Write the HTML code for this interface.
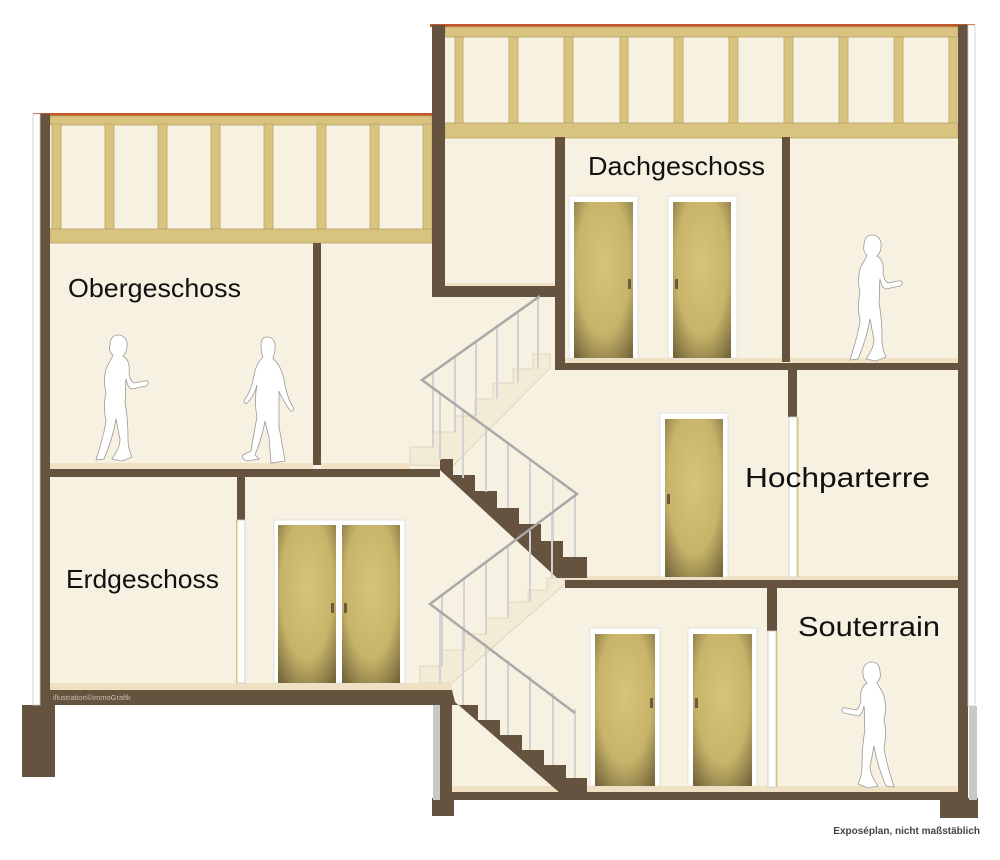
<!DOCTYPE html>
<html><head><meta charset="utf-8"><style>
html,body{margin:0;padding:0;background:#fff;}
svg{display:block;}
.lbl{font-family:"Liberation Sans",sans-serif;fill:#111;}
</style></head><body>
<svg width="1000" height="860" viewBox="0 0 1000 860" xmlns="http://www.w3.org/2000/svg">
<defs>
<radialGradient id="dg" cx="50%" cy="40%" r="75%">
<stop offset="0" stop-color="#d6c47a"/><stop offset="0.6" stop-color="#c7b46a"/><stop offset="1" stop-color="#75663a"/>
</radialGradient>
<path id="woman" d="M10,0 C16,0 20,5 19,12 C19,16 17,19 15,21 C20,24 22,30 21,38 C22,44 24,47 26,48 L36,46 C40,45 42,48 38,51 L24,54 C20,53 19,48 18,44 C17,52 18,60 17,68 C19,78 20,92 20,104 C20,112 22,118 24,122 L14,126 L4,124 C8,118 12,112 12,104 C10,96 9,88 8,84 C6,96 2,110 -4,124 L-12,125 C-8,112 -4,100 -2,86 C-4,76 -4,66 -2,58 C-4,50 -4,42 -2,34 C0,28 4,24 5,20 C2,18 1,14 2,10 C2,4 5,0 10,0 Z"/>
<path id="man" d="M12,0 C18,0 21,5 20,12 C20,16 18,19 18,22 C24,26 28,36 30,48 C32,58 34,64 38,70 C40,74 36,76 34,72 C30,66 26,60 24,54 C24,66 24,78 24,90 C26,100 28,112 30,124 L16,126 L14,100 C12,94 11,88 10,84 C8,96 4,108 0,118 L4,122 L-8,124 C-12,122 -14,120 -12,118 L-4,114 C-2,102 0,90 2,80 C0,70 0,58 2,48 C0,56 -4,62 -8,66 C-10,68 -12,64 -10,62 C-4,54 -2,44 0,34 C2,26 6,22 8,20 C6,16 6,12 6,8 C6,3 8,0 12,0 Z"/>
</defs>

<rect x="50" y="25" width="908" height="770" fill="#f7f1e1"/>
<rect x="0" y="0" width="432" height="114" fill="#fff"/>
<rect x="0" y="705" width="440" height="155" fill="#fff"/>

<rect x="33" y="113" width="399" height="3" fill="#c0582a"/>
<rect x="430" y="24" width="545" height="3" fill="#c0582a"/>

<g fill="#d9c47f" stroke="#b7a468" stroke-width="0.8">
<rect x="50" y="116" width="382" height="9"/>
<rect x="52" y="124" width="9" height="105"/><rect x="105" y="124" width="9" height="105"/>
<rect x="158" y="124" width="9" height="105"/><rect x="211" y="124" width="9" height="105"/>
<rect x="264" y="124" width="9" height="105"/><rect x="317" y="124" width="9" height="105"/>
<rect x="370" y="124" width="9" height="105"/><rect x="423" y="124" width="9" height="105"/>
<rect x="50" y="229" width="382" height="14"/>
</g>
<g fill="#d9c47f" stroke="#b7a468" stroke-width="0.8">
<rect x="445" y="27" width="513" height="10"/>
<rect x="455" y="37" width="8" height="86"/><rect x="509" y="37" width="9" height="86"/>
<rect x="564" y="37" width="9" height="86"/><rect x="620" y="37" width="8" height="86"/>
<rect x="674" y="37" width="9" height="86"/><rect x="729" y="37" width="9" height="86"/>
<rect x="784" y="37" width="9" height="86"/><rect x="839" y="37" width="9" height="86"/>
<rect x="894" y="37" width="9" height="86"/><rect x="949" y="37" width="8" height="86"/>
<rect x="445" y="123" width="513" height="15"/>
</g>

<g fill="#f3ebd6" stroke="#e0d6bf" stroke-width="1">
<polygon points="410,465 410,447 433,447 433,432 455,432 455,416 475,416 475,399 493,399 493,383 513,383 513,369 533,369 533,354 550,354 550,368 453,466"/>
<polygon points="420,683 420,666 442,666 442,650 464,650 464,634 486,634 486,618 508,618 508,602 528,602 528,590 547,590 547,578 565,578 565,584 452,683"/>
</g>

<g fill="#f0e1c4">
<rect x="50" y="463" width="263" height="6"/><rect x="321" y="463" width="89" height="6"/>
<rect x="50" y="683" width="402" height="7"/>
<rect x="445" y="283" width="110" height="4"/>
<rect x="565" y="358" width="217" height="6"/><rect x="790" y="358" width="168" height="6"/>
<rect x="565" y="576" width="393" height="5"/>
<rect x="452" y="786" width="506" height="6"/>
</g>

<g fill="#65533f">
<rect x="40" y="114" width="10" height="591"/>
<rect x="22" y="705" width="33" height="72"/>
<rect x="432" y="25" width="13" height="272"/>
<rect x="432" y="286" width="123" height="11"/>
<rect x="313" y="243" width="8" height="222"/>
<rect x="40" y="469" width="400" height="8"/>
<rect x="237" y="476" width="8" height="44"/>
<rect x="40" y="690" width="412" height="15"/>
<rect x="440" y="705" width="12" height="110"/>
<rect x="432" y="798" width="22" height="18"/>
<rect x="555" y="137" width="10" height="232"/>
<rect x="782" y="137" width="8" height="225"/>
<rect x="555" y="363" width="413" height="7"/>
<rect x="788" y="369" width="9" height="48"/>
<rect x="565" y="580" width="403" height="8"/>
<rect x="767" y="587" width="10" height="44"/>
<rect x="440" y="792" width="528" height="8"/>
<rect x="958" y="25" width="10" height="775"/>
<rect x="940" y="798" width="38" height="20"/>
<polygon points="440,459 453,459 453,475 475,475 475,491 497,491 497,508 519,508 519,524 541,524 541,541 563,541 563,557 587,557 587,578 557,578 440,470"/>
<polygon points="452,690 452,705 478,705 478,720 500,720 500,735 522,735 522,750 544,750 544,765 566,765 566,778 587,778 587,793 560,793 455,702"/>
</g>

<rect x="33" y="114" width="7" height="591" fill="#fff" stroke="#ccc" stroke-width="0.8"/>
<rect x="968" y="25" width="7" height="681" fill="#fff" stroke="#ccc" stroke-width="0.8"/>
<rect x="969" y="706" width="8" height="94" fill="#c8c8c8"/>
<rect x="433" y="705" width="7" height="95" fill="#c8c8c8"/>

<g>
<rect x="237" y="520" width="8" height="163" fill="#fff" stroke="#ccc" stroke-width="0.8"/><rect x="236" y="520" width="1.5" height="163" fill="#d9c47f"/>
<rect x="789" y="417" width="8" height="160" fill="#fff" stroke="#ccc" stroke-width="0.8"/><rect x="797" y="417" width="1.5" height="160" fill="#d9c47f"/>
<rect x="768" y="631" width="8" height="156" fill="#fff" stroke="#ccc" stroke-width="0.8"/><rect x="776" y="631" width="1.5" height="156" fill="#d9c47f"/>
</g>

<g stroke="#ddd" stroke-width="0.8">
<rect x="569" y="196" width="69" height="162" fill="#fff"/>
<rect x="668" y="196" width="69" height="162" fill="#fff"/>
<rect x="660" y="413" width="68" height="164" fill="#fff"/>
<rect x="274" y="520" width="131" height="163" fill="#fff"/>
<rect x="590" y="628" width="70" height="158" fill="#fff"/>
<rect x="688" y="628" width="69" height="158" fill="#fff"/>
</g>
<g fill="url(#dg)">
<rect x="574" y="202" width="59" height="156"/>
<rect x="673" y="202" width="58" height="156"/>
<rect x="665" y="419" width="58" height="158"/>
<rect x="278" y="525" width="58" height="158"/>
<rect x="342" y="525" width="58" height="158"/>
<rect x="595" y="634" width="60" height="152"/>
<rect x="693" y="634" width="59" height="152"/>
</g>
<g fill="#6b5a40">
<rect x="628" y="279" width="3" height="10"/><rect x="675" y="279" width="3" height="10"/>
<rect x="667" y="494" width="3" height="10"/>
<rect x="331" y="603" width="3" height="10"/><rect x="344" y="603" width="3" height="10"/>
<rect x="650" y="698" width="3" height="10"/><rect x="695" y="698" width="3" height="10"/>
</g>

<g stroke="#d2d2d2" stroke-width="2">
<line x1="433" y1="372" x2="433" y2="447"/><line x1="455" y1="357" x2="455" y2="432"/>
<line x1="476" y1="342" x2="476" y2="416"/><line x1="497" y1="327" x2="497" y2="399"/>
<line x1="518" y1="312" x2="518" y2="383"/><line x1="538" y1="298" x2="538" y2="369"/>
<line x1="440" y1="393" x2="440" y2="460"/><line x1="463" y1="410" x2="463" y2="478"/>
<line x1="486" y1="427" x2="486" y2="492"/><line x1="508" y1="443" x2="508" y2="508"/>
<line x1="530" y1="459" x2="530" y2="524"/><line x1="553" y1="476" x2="553" y2="541"/>
<line x1="575" y1="493" x2="575" y2="557"/>
<line x1="442" y1="595" x2="442" y2="666"/><line x1="464" y1="579" x2="464" y2="650"/>
<line x1="486" y1="563" x2="486" y2="634"/><line x1="508" y1="547" x2="508" y2="618"/>
<line x1="530" y1="531" x2="530" y2="602"/><line x1="552" y1="515" x2="552" y2="578"/>
<line x1="440" y1="611" x2="440" y2="683"/><line x1="463" y1="628" x2="463" y2="705"/>
<line x1="486" y1="644" x2="486" y2="720"/><line x1="508" y1="660" x2="508" y2="735"/>
<line x1="530" y1="676" x2="530" y2="750"/><line x1="553" y1="693" x2="553" y2="765"/>
<line x1="575" y1="709" x2="575" y2="778"/>
</g>
<polyline points="540,296 422,380 577,494 430,604 575,713" fill="none" stroke="#a9a9a9" stroke-width="2.5"/>

<g fill="#fff" stroke="#9a9a9a" stroke-width="0.8">
<use href="#woman" transform="translate(108,335)"/>
<use href="#man" transform="translate(255,337)"/>
<use href="#woman" transform="translate(862,235)"/>
<use href="#woman" transform="translate(882,662) scale(-1,1)"/>
</g>

<text class="lbl" x="68" y="297" font-size="26" textLength="173" lengthAdjust="spacingAndGlyphs">Obergeschoss</text>
<text class="lbl" x="588" y="175" font-size="26" textLength="177" lengthAdjust="spacingAndGlyphs">Dachgeschoss</text>
<text class="lbl" x="745" y="487" font-size="28" textLength="185" lengthAdjust="spacingAndGlyphs">Hochparterre</text>
<text class="lbl" x="66" y="588" font-size="26" textLength="153" lengthAdjust="spacingAndGlyphs">Erdgeschoss</text>
<text class="lbl" x="798" y="636" font-size="28" textLength="142" lengthAdjust="spacingAndGlyphs">Souterrain</text>
<text x="53" y="700" font-family="Liberation Sans, sans-serif" font-size="7.5" fill="#c9bfae">illustration©immoGrafik</text>
<text x="980" y="834" text-anchor="end" font-family="Liberation Sans, sans-serif" font-size="10" font-weight="bold" fill="#444">Exposéplan, nicht maßstäblich</text>
</svg>
</body></html>
